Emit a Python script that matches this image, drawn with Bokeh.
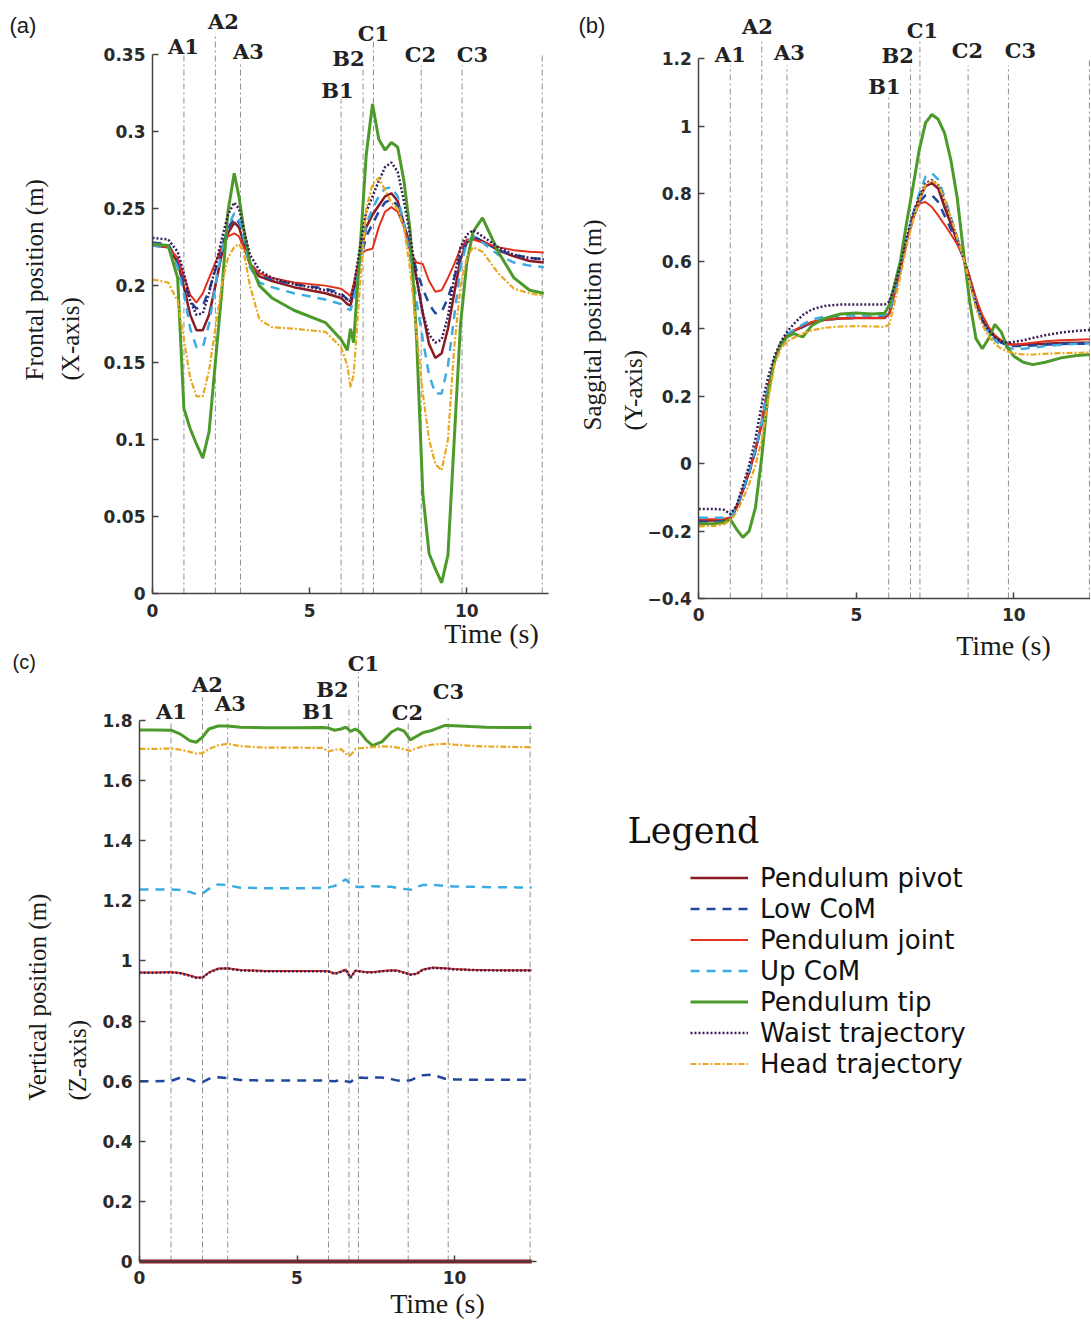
import math
from bokeh.plotting import figure
from bokeh.layouts import row, column
from bokeh.models import Range1d, FixedTicker, CustomJSTickFormatter, Label, Legend, LegendItem
from bokeh.embed import file_html
from bokeh.resources import INLINE

SERIES_NAMES = ["Pendulum pivot", "Low CoM", "Pendulum joint", "Up CoM",
                "Pendulum tip", "Waist trajectory", "Head trajectory"]
EVENT_NAMES = ["A1", "A2", "A3", "B1", "B2", "C1", "C2", "C3"]
X_TICKS = [0, 5, 10]

# ---------------- Panel (a): frontal position (X-axis) ----------------
ta = [0, 0.5, 0.8, 1.0, 1.2, 1.4, 1.6, 1.8, 2.0, 2.2, 2.4, 2.6, 2.75, 2.9, 3.1, 3.4,
      3.8, 4.5, 5.5, 6.0, 6.2, 6.3, 6.4, 6.6, 6.8, 7.0, 7.2, 7.4, 7.6, 7.8, 8.0, 8.2,
      8.4, 8.6, 8.8, 9.0, 9.2, 9.4, 9.6, 9.8, 10.0, 10.2, 10.5, 11.0, 11.5, 12.0, 12.45]
a_pivot = [0.226, 0.225, 0.215, 0.199, 0.181, 0.171, 0.171, 0.181, 0.200, 0.220,
           0.234, 0.241, 0.238, 0.228, 0.214, 0.206, 0.203, 0.199, 0.195, 0.192,
           0.188, 0.187, 0.196, 0.220, 0.238, 0.246, 0.252, 0.258, 0.260, 0.255,
           0.240, 0.225, 0.205, 0.182, 0.162, 0.153, 0.156, 0.172, 0.195, 0.217,
           0.228, 0.231, 0.229, 0.223, 0.219, 0.216, 0.215]
a_low = [0.228, 0.227, 0.216, 0.203, 0.190, 0.185, 0.187, 0.197, 0.210, 0.225,
         0.237, 0.244, 0.241, 0.231, 0.215, 0.207, 0.204, 0.201, 0.198, 0.195,
         0.191, 0.190, 0.198, 0.215, 0.232, 0.240, 0.248, 0.254, 0.256, 0.252,
         0.240, 0.225, 0.210, 0.198, 0.188, 0.182, 0.183, 0.192, 0.205, 0.220,
         0.229, 0.232, 0.229, 0.223, 0.220, 0.218, 0.217]
a_joint = [0.226, 0.225, 0.218, 0.206, 0.194, 0.189, 0.195, 0.205, 0.215, 0.225,
           0.232, 0.234, 0.232, 0.225, 0.214, 0.208, 0.205, 0.202, 0.200, 0.198,
           0.195, 0.193, 0.201, 0.220, 0.223, 0.224, 0.238, 0.248, 0.251, 0.248,
           0.238, 0.222, 0.215, 0.214, 0.203, 0.196, 0.197, 0.205, 0.214, 0.224,
           0.230, 0.230, 0.228, 0.225, 0.223, 0.222, 0.2215]
a_up = [0.226, 0.225, 0.212, 0.195, 0.172, 0.160, 0.160, 0.175, 0.200, 0.222,
        0.238, 0.247, 0.244, 0.231, 0.212, 0.202, 0.199, 0.195, 0.191, 0.188,
        0.185, 0.184, 0.191, 0.215, 0.240, 0.250, 0.258, 0.263, 0.264, 0.258,
        0.240, 0.218, 0.190, 0.165, 0.142, 0.130, 0.130, 0.148, 0.180, 0.212,
        0.228, 0.232, 0.228, 0.220, 0.215, 0.213, 0.212]
a_tip = [0.227, 0.226, 0.205, 0.120, 0.107, 0.097, 0.088, 0.105, 0.150, 0.195,
         0.248, 0.273, 0.258, 0.237, 0.215, 0.200, 0.192, 0.184, 0.176, 0.165,
         0.158, 0.172, 0.163, 0.222, 0.285, 0.318, 0.295, 0.288, 0.293, 0.290,
         0.268, 0.235, 0.167, 0.065, 0.026, 0.016, 0.007, 0.025, 0.100, 0.175,
         0.215, 0.235, 0.244, 0.222, 0.205, 0.197, 0.195]
a_waist = [0.231, 0.230, 0.222, 0.208, 0.190, 0.181, 0.182, 0.195, 0.212, 0.230,
           0.246, 0.254, 0.250, 0.237, 0.220, 0.210, 0.205, 0.201, 0.197, 0.194,
           0.191, 0.190, 0.199, 0.225, 0.248, 0.258, 0.268, 0.277, 0.280, 0.274,
           0.255, 0.232, 0.205, 0.182, 0.168, 0.163, 0.165, 0.180, 0.205, 0.225,
           0.233, 0.236, 0.232, 0.225, 0.220, 0.218, 0.217]
a_head = [0.204, 0.202, 0.190, 0.165, 0.140, 0.128, 0.128, 0.145, 0.172, 0.200,
          0.218, 0.225, 0.227, 0.222, 0.200, 0.178, 0.173, 0.172, 0.170, 0.160,
          0.148, 0.134, 0.142, 0.200, 0.250, 0.266, 0.270, 0.262, 0.254, 0.250,
          0.238, 0.210, 0.170, 0.130, 0.100, 0.084, 0.080, 0.100, 0.160, 0.200,
          0.218, 0.225, 0.222, 0.208, 0.198, 0.195, 0.1935]
a_yticks = [0, 0.05, 0.1, 0.15, 0.2, 0.25, 0.3, 0.35]
a_events = [1.0, 2.0, 2.8, 6.0, 6.7, 7.03, 8.55, 9.85, 12.4]
a_event_tops = [0.351, 0.364, 0.345, 0.321, 0.344, 0.360, 0.343, 0.343, 0.351]
a_label_t = [0.986, 2.259, 3.054, 5.886, 6.236, 7.031, 8.527, 10.181]
a_label_v = [0.3553, 0.3716, 0.3521, 0.3267, 0.3475, 0.3638, 0.3501, 0.3501]

# ---------------- Panel (b): sagittal position (Y-axis) ----------------
tb = [0, 0.5, 0.8, 1.0, 1.2, 1.4, 1.6, 1.8, 2.0, 2.2, 2.4, 2.6, 2.8, 3.0, 3.3, 3.6,
      4.0, 4.5, 5.0, 5.5, 5.9, 6.05, 6.2, 6.4, 6.6, 6.8, 7.0, 7.2, 7.4, 7.6, 7.8, 8.0,
      8.2, 8.4, 8.6, 8.8, 9.0, 9.2, 9.4, 9.6, 9.8, 10.0, 10.3, 10.6, 11.0, 11.5, 12.0, 12.45]
b_pivot = [-0.169, -0.169, -0.167, -0.162, -0.130, -0.080, -0.025, 0.040, 0.120, 0.225,
           0.305, 0.355, 0.380, 0.392, 0.405, 0.418, 0.426, 0.430, 0.431, 0.431,
           0.431, 0.445, 0.500, 0.575, 0.660, 0.730, 0.785, 0.822, 0.831, 0.815,
           0.760, 0.710, 0.660, 0.610, 0.545, 0.475, 0.425, 0.395, 0.375, 0.362,
           0.355, 0.352, 0.352, 0.353, 0.355, 0.357, 0.358, 0.358]
b_low = [-0.172, -0.172, -0.170, -0.163, -0.132, -0.082, -0.028, 0.038, 0.118, 0.222,
         0.302, 0.352, 0.378, 0.390, 0.405, 0.418, 0.426, 0.430, 0.432, 0.432,
         0.433, 0.447, 0.500, 0.575, 0.660, 0.728, 0.775, 0.795, 0.795, 0.775,
         0.735, 0.695, 0.655, 0.610, 0.550, 0.480, 0.425, 0.393, 0.372, 0.358,
         0.350, 0.348, 0.348, 0.350, 0.352, 0.354, 0.355, 0.355]
b_joint = [-0.165, -0.165, -0.164, -0.160, -0.125, -0.075, -0.020, 0.045, 0.125, 0.228,
           0.305, 0.355, 0.380, 0.393, 0.408, 0.420, 0.427, 0.430, 0.431, 0.431,
           0.431, 0.445, 0.500, 0.575, 0.660, 0.725, 0.770, 0.775, 0.760, 0.735,
           0.708, 0.680, 0.650, 0.610, 0.555, 0.490, 0.440, 0.405, 0.380, 0.365,
           0.355, 0.352, 0.355, 0.358, 0.362, 0.365, 0.367, 0.368]
b_up = [-0.161, -0.161, -0.161, -0.160, -0.128, -0.078, -0.022, 0.043, 0.122, 0.225,
        0.305, 0.355, 0.382, 0.395, 0.412, 0.427, 0.435, 0.439, 0.440, 0.440,
        0.440, 0.450, 0.505, 0.580, 0.665, 0.740, 0.800, 0.850, 0.860, 0.842,
        0.790, 0.730, 0.670, 0.610, 0.540, 0.470, 0.420, 0.388, 0.365, 0.350,
        0.343, 0.340, 0.340, 0.343, 0.348, 0.352, 0.355, 0.356]
b_tip = [-0.179, -0.178, -0.175, -0.165, -0.195, -0.219, -0.200, -0.130, 0.020, 0.205,
         0.305, 0.350, 0.375, 0.385, 0.375, 0.410, 0.430, 0.443, 0.446, 0.443,
         0.445, 0.470, 0.525, 0.600, 0.715, 0.820, 0.930, 1.010, 1.034, 1.020,
         0.980, 0.900, 0.790, 0.630, 0.480, 0.370, 0.340, 0.370, 0.412, 0.390,
         0.343, 0.318, 0.300, 0.293, 0.300, 0.313, 0.320, 0.323]
b_waist = [-0.135, -0.135, -0.137, -0.150, -0.125, -0.065, -0.005, 0.075, 0.175, 0.255,
           0.318, 0.360, 0.390, 0.412, 0.440, 0.457, 0.467, 0.471, 0.471, 0.471,
           0.471, 0.480, 0.520, 0.585, 0.670, 0.740, 0.790, 0.830, 0.840, 0.825,
           0.780, 0.725, 0.668, 0.610, 0.540, 0.470, 0.425, 0.395, 0.375, 0.362,
           0.358, 0.360, 0.365, 0.372, 0.380, 0.388, 0.393, 0.396]
b_head = [-0.186, -0.185, -0.180, -0.168, -0.145, -0.105, -0.060, -0.005, 0.070, 0.185,
          0.290, 0.340, 0.362, 0.372, 0.385, 0.395, 0.402, 0.406, 0.407, 0.406,
          0.405, 0.412, 0.470, 0.555, 0.645, 0.720, 0.780, 0.825, 0.838, 0.825,
          0.785, 0.730, 0.670, 0.610, 0.535, 0.460, 0.410, 0.378, 0.355, 0.340,
          0.332, 0.327, 0.323, 0.323, 0.325, 0.327, 0.328, 0.329]
b_yticks = [-0.4, -0.2, 0, 0.2, 0.4, 0.6, 0.8, 1.0, 1.2]
b_events = [1.0, 2.0, 2.8, 6.03, 6.72, 7.02, 8.55, 9.83, 12.4]
b_event_tops = [1.179, 1.253, 1.179, 1.090, 1.179, 1.253, 1.179, 1.179, 1.203]
b_label_t = [1.0, 1.86, 2.88, 5.89, 6.31, 7.1, 8.53, 10.21]
b_label_v = [1.212, 1.295, 1.218, 1.117, 1.209, 1.283, 1.224, 1.224]

# ---------------- Panel (c): vertical position (Z-axis) ----------------
tc = [0, 0.5, 1.0, 1.3, 1.6, 1.8, 2.0, 2.2, 2.5, 2.8, 3.2, 4.0, 5.0, 5.8, 6.0, 6.2,
      6.4, 6.55, 6.7, 6.85, 7.0, 7.2, 7.4, 7.7, 8.0, 8.2, 8.4, 8.6, 8.8, 9.0, 9.3,
      9.7, 10.0, 10.5, 11.0, 12.0, 12.45]
c_pivot_t = [0, 12.45]
c_pivot = [0.0, 0.0]
c_low = [0.600, 0.600, 0.601, 0.612, 0.606, 0.598, 0.597, 0.608, 0.613, 0.610,
         0.604, 0.602, 0.602, 0.602, 0.601, 0.600, 0.605, 0.600, 0.597, 0.611,
         0.612, 0.611, 0.612, 0.612, 0.607, 0.602, 0.600, 0.603, 0.612, 0.620,
         0.622, 0.608, 0.606, 0.605, 0.605, 0.605, 0.605]
c_joint = [0.962, 0.962, 0.963, 0.960, 0.952, 0.945, 0.945, 0.962, 0.975, 0.976,
           0.970, 0.967, 0.967, 0.967, 0.966, 0.958, 0.965, 0.972, 0.945, 0.968,
           0.966, 0.963, 0.963, 0.967, 0.969, 0.968, 0.962, 0.955, 0.958, 0.972,
           0.978, 0.976, 0.973, 0.971, 0.970, 0.969, 0.969]
c_up = [1.238, 1.238, 1.238, 1.236, 1.230, 1.222, 1.225, 1.240, 1.255, 1.252,
        1.244, 1.242, 1.242, 1.243, 1.245, 1.250, 1.262, 1.272, 1.255, 1.248,
        1.246, 1.247, 1.249, 1.248, 1.247, 1.243, 1.240, 1.237, 1.247, 1.253,
        1.253, 1.250, 1.248, 1.247, 1.246, 1.245, 1.245]
c_tip = [1.769, 1.769, 1.768, 1.755, 1.733, 1.728, 1.745, 1.772, 1.782, 1.782,
         1.778, 1.776, 1.776, 1.777, 1.775, 1.768, 1.772, 1.778, 1.764, 1.772,
         1.762, 1.735, 1.717, 1.730, 1.762, 1.773, 1.765, 1.736, 1.748, 1.760,
         1.768, 1.784, 1.783, 1.780, 1.778, 1.777, 1.777]
c_waist = [0.961, 0.961, 0.962, 0.959, 0.951, 0.944, 0.944, 0.961, 0.974, 0.975,
           0.969, 0.966, 0.966, 0.966, 0.965, 0.957, 0.964, 0.971, 0.944, 0.967,
           0.965, 0.962, 0.962, 0.966, 0.968, 0.967, 0.961, 0.954, 0.957, 0.971,
           0.977, 0.975, 0.972, 0.970, 0.969, 0.968, 0.968]
c_head = [1.706, 1.706, 1.707, 1.703, 1.696, 1.690, 1.692, 1.705, 1.718, 1.723,
          1.715, 1.710, 1.710, 1.709, 1.697, 1.703, 1.705, 1.690, 1.684, 1.705,
          1.708, 1.710, 1.712, 1.714, 1.713, 1.710, 1.705, 1.699, 1.708, 1.715,
          1.720, 1.723, 1.720, 1.716, 1.714, 1.712, 1.712]
c_yticks = [0, 0.2, 0.4, 0.6, 0.8, 1.0, 1.2, 1.4, 1.6, 1.8]
c_events = [1.0, 2.0, 2.8, 6.0, 6.65, 6.95, 8.53, 9.8, 12.4]
c_event_tops = [1.80, 1.878, 1.817, 1.80, 1.85, 1.961, 1.795, 1.811, 1.80]
c_label_t = [1.016, 2.159, 2.889, 5.683, 6.127, 7.111, 8.508, 9.810]
c_label_v = [1.830, 1.920, 1.857, 1.830, 1.904, 1.990, 1.827, 1.897]

# ---------------- styles ----------------
STYLE = {
    "Pendulum pivot":   dict(line_color="#8B1A22", line_width=2.5, line_dash="solid"),
    "Low CoM":          dict(line_color="#23479E", line_width=2.5, line_dash="9 7"),
    "Pendulum joint":   dict(line_color="#E2321F", line_width=2.0, line_dash="solid"),
    "Up CoM":           dict(line_color="#3DAAE0", line_width=2.5, line_dash="9 7"),
    "Pendulum tip":     dict(line_color="#4C9A2A", line_width=3.0, line_dash="solid"),
    "Waist trajectory": dict(line_color="#3A1E56", line_width=2.5, line_dash="2 2"),
    "Head trajectory":  dict(line_color="#E9A820", line_width=2.2, line_dash="6 2 2 2"),
}
AXIS_COLOR = "#444444"
TICK_FMT = ("var s = (Math.round(tick * 1000) / 1000).toString();"
            "return s.replace('-', '\\u2212');")


def add_text(p, x, y, text, font, size, style="normal", align="center", angle=0.0,
             color="#1a1a1a"):
    p.add_layout(Label(x=x, y=y, text=text, text_font=font, text_font_size=size,
                       text_font_style=style, text_align=align, text_baseline="middle",
                       angle=angle, text_color=color))


def build_panel(width, height, xr, yr, xbounds, yticks, ybounds, series, ev_t, ev_top,
                lab_t, lab_v, letter, ylab1, ylab2, tlab):
    p = figure(width=width, height=height, x_range=Range1d(*xr), y_range=Range1d(*yr),
               output_backend="svg", toolbar_location=None, min_border=0)
    p.outline_line_color = None
    p.xgrid.visible = False
    p.ygrid.visible = False
    p.background_fill_color = "white"
    p.border_fill_color = "white"

    # axes drawn inside the frame at t = 0 and at the lower y bound
    p.xaxis.fixed_location = ybounds[0]
    p.yaxis.fixed_location = 0
    p.xaxis.bounds = xbounds
    p.yaxis.bounds = ybounds
    p.xaxis.ticker = FixedTicker(ticks=X_TICKS)
    p.yaxis.ticker = FixedTicker(ticks=yticks)
    p.yaxis.formatter = CustomJSTickFormatter(code=TICK_FMT)
    for ax in (p.xaxis[0], p.yaxis[0]):
        ax.axis_line_color = AXIS_COLOR
        ax.axis_line_width = 1.5
        ax.major_tick_line_color = AXIS_COLOR
        ax.major_tick_line_width = 1.5
        ax.major_tick_in = 6
        ax.major_tick_out = 0
        ax.minor_tick_line_color = None
        ax.major_label_text_font = "DejaVu Sans"
        ax.major_label_text_font_style = "bold"
        ax.major_label_text_font_size = "17px"
        ax.major_label_text_color = "#2a2a2a"
    p.yaxis.major_label_standoff = 7
    p.xaxis.major_label_standoff = 10

    # event lines
    p.segment(x0=ev_t, y0=[ybounds[0]] * len(ev_t), x1=ev_t, y1=ev_top,
              line_color="#8f8f8f", line_width=1, line_dash="6 3 2 3")

    for name, t, vals, lw in series:
        st = dict(STYLE[name])
        if lw is not None:
            st["line_width"] = lw
        p.line(t, vals, **st)

    for name, lx, ly in zip(EVENT_NAMES, lab_t, lab_v):
        add_text(p, lx, ly, name, "DejaVu Serif", "21px", style="bold", color="#222222")

    add_text(p, letter[0], letter[1], letter[2], "Liberation Sans", letter[3], align="left")
    add_text(p, ylab1[0], ylab1[1], ylab1[2], "Liberation Serif", "25px", align="left",
             angle=math.pi / 2)
    add_text(p, ylab2[0], ylab2[1], ylab2[2], "Liberation Serif", "25px", align="left",
             angle=math.pi / 2)
    add_text(p, tlab[0], tlab[1], "Time (s)", "Liberation Serif", "28px")
    return p


pa = build_panel(
    560, 650, (-4.836, 12.981), (-0.0370, 0.3852), (0, 12.6), a_yticks, (0, 0.35),
    [("Pendulum pivot", ta, a_pivot, None), ("Low CoM", ta, a_low, None),
     ("Pendulum joint", ta, a_joint, None), ("Up CoM", ta, a_up, None),
     ("Pendulum tip", ta, a_tip, None), ("Waist trajectory", ta, a_waist, None),
     ("Head trajectory", ta, a_head, None)],
    a_events, a_event_tops, a_label_t, a_label_v,
    (-4.55, 0.369, "(a)", "22px"), (-3.754, 0.1384, "Frontal position (m)"),
    (-2.609, 0.1384, "(X-axis)"), (10.786, -0.0260))

pb = build_panel(
    530, 663, (-4.390, 12.435), (-0.5926, 1.3719), (0, 12.435), b_yticks, (-0.4, 1.2),
    [("Pendulum pivot", tb, b_pivot, None), ("Low CoM", tb, b_low, None),
     ("Pendulum joint", tb, b_joint, None), ("Up CoM", tb, b_up, None),
     ("Pendulum tip", tb, b_tip, None), ("Waist trajectory", tb, b_waist, None),
     ("Head trajectory", tb, b_head, None)],
    b_events, b_event_tops, b_label_t, b_label_v,
    (-3.819, 1.2978, "(b)", "22px"), (-3.375, 0.0978, "Saggital position (m)"),
    (-2.073, 0.0978, "(Y-axis)"), (9.673, -0.539))

pc = build_panel(
    560, 671, (-4.413, 13.365), (-0.1997, 2.0333), (0, 12.6), c_yticks, (0, 1.8),
    [("Pendulum pivot", c_pivot_t, c_pivot, 4.0), ("Low CoM", tc, c_low, None),
     ("Pendulum joint", tc, c_joint, None), ("Up CoM", tc, c_up, None),
     ("Pendulum tip", tc, c_tip, None), ("Waist trajectory", tc, c_waist, None),
     ("Head trajectory", tc, c_head, None)],
    c_events, c_event_tops, c_label_t, c_label_v,
    (-4.032, 1.994, "(c)", "20px"), (-3.238, 0.5358, "Vertical position (m)"),
    (-1.968, 0.5358, "(Z-axis)"), (9.46, -0.1398))

# ---------------- legend panel ----------------
pd_ = figure(width=530, height=658, x_range=Range1d(0, 530), y_range=Range1d(0, 658),
             x_axis_type=None, y_axis_type=None, output_backend="svg",
             toolbar_location=None, min_border=0)
pd_.outline_line_color = None
pd_.background_fill_color = "white"
pd_.border_fill_color = "white"
nan = float("nan")
items = []
for name in SERIES_NAMES:
    r = pd_.line(x=[nan, nan], y=[nan, nan], **STYLE[name])
    items.append(LegendItem(label=name, renderers=[r]))
legend = Legend(items=items, location=(130, 242), padding=0, margin=0,
                border_line_color=None, background_fill_alpha=0,
                glyph_width=58, glyph_height=31, label_height=31, spacing=0,
                label_standoff=12, label_text_font="DejaVu Sans",
                label_text_font_size="26px", label_text_color="#111111")
pd_.add_layout(legend)
pd_.add_layout(Label(x=67, y=491, text="Legend", text_font="DejaVu Serif",
                     text_font_size="35px", text_align="left", text_baseline="middle",
                     text_color="#111111"))

layout = row(column(pa, pc), column(pb, pd_))
open("out.html", "w").write(file_html(layout, INLINE))
